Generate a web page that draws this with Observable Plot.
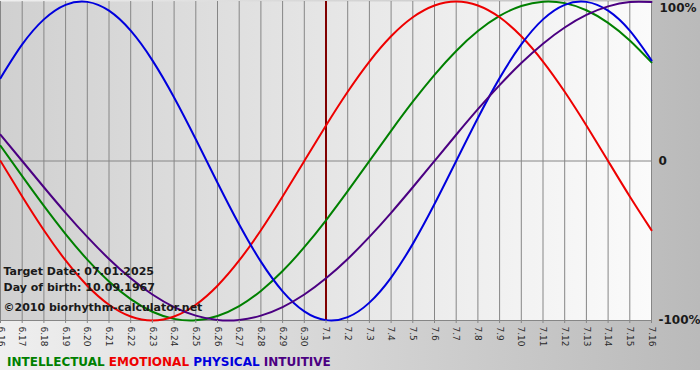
<!DOCTYPE html>
<html>
<head>
<meta charset="utf-8">
<script src="https://cdn.jsdelivr.net/npm/d3@7"></script>
<script src="https://cdn.jsdelivr.net/npm/@observablehq/plot@0.6"></script>
<style>
  body { margin: 0; background: #ffffff; }
  #wrap { width: 700px; height: 370px; position: relative;
          background: linear-gradient(to right, #efefef, #bababa); }
  #legend { position: absolute; left: 7px; top: 354px; height: 16px;
            font: bold 12px "DejaVu Sans", sans-serif; white-space: pre; line-height: 16px; }
</style>
</head>
<body>
<div id="wrap"><div id="chart"></div><div id="legend"></div></div>
<script>
// day offsets relative to the target date (7.1)
const days = [-15,-14,-13,-12,-11,-10,-9,-8,-7,-6,-5,-4,-3,-2,-1,0,1,2,3,4,5,6,7,8,9,10,11,12,13,14,15];
const dateLabels = ["6.16","6.17","6.18","6.19","6.20","6.21","6.22","6.23","6.24","6.25","6.26","6.27","6.28","6.29","6.30",
                    "7.1","7.2","7.3","7.4","7.5","7.6","7.7","7.8","7.9","7.10","7.11","7.12","7.13","7.14","7.15","7.16"];
const targetDay = 0;

const intellectual = [0.0951,-0.0951,-0.2817,-0.4582,-0.6182,-0.7557,-0.8660,-0.9450,-0.9898,-0.9989,-0.9718,-0.9096,-0.8146,-0.6901,-0.5406,
                      -0.3717,-0.1893,0,0.1893,0.3717,0.5406,0.6901,0.8146,0.9096,0.9718,0.9989,0.9898,0.9450,0.8660,0.7557,0.6182];
const emotional = [0,-0.2225,-0.4339,-0.6235,-0.7818,-0.9010,-0.9749,-1,-0.9749,-0.9010,-0.7818,-0.6235,-0.4339,-0.2225,0,
                   0.2225,0.4339,0.6235,0.7818,0.9010,0.9749,1,0.9749,0.9010,0.7818,0.6235,0.4339,0.2225,0,-0.2225,-0.4339];
const physical = [0.5196,0.7308,0.8879,0.9791,0.9977,0.9423,0.8170,0.6311,0.3984,0.1362,-0.1362,-0.3984,-0.6311,-0.8170,-0.9423,
                  -0.9977,-0.9791,-0.8879,-0.7308,-0.5196,-0.2698,0,0.2698,0.5196,0.7308,0.8879,0.9791,0.9977,0.9423,0.8170,0.6311];
const intuitive = [0.1646,0,-0.1646,-0.3247,-0.4759,-0.6142,-0.7357,-0.8372,-0.9158,-0.9694,-0.9966,-0.9966,-0.9694,-0.9158,-0.8372,
                   -0.7357,-0.6142,-0.4759,-0.3247,-0.1646,0,0.1646,0.3247,0.4759,0.6142,0.7357,0.8372,0.9158,0.9694,0.9966,0.9966];

const seriesNames = ["INTELLECTUAL","EMOTIONAL","PHYSICAL","INTUITIVE"];
const seriesColors = ["#008000","#ee0000","#0000dd","#4b0082"];
const yTicks = [1, 0, -1];
const yTickLabels = ["100%", "0", "-100%"];
const infoLines = ["Target Date: 07.01.2025", "Day of birth: 10.09.1967", "\u00a92010 biorhythm-calculator.net"];

const seriesValues = [intellectual, emotional, physical, intuitive];
const rows = seriesValues.flatMap((vals, s) => vals.map((v, i) => ({day: days[i], value: v, series: seriesNames[s]})));

const defsMark = () => {
  const defs = d3.create("svg:defs");
  const g = defs.append("linearGradient").attr("id", "plotbg").attr("x1", "0").attr("x2", "1").attr("y1", "0").attr("y2", "0");
  g.append("stop").attr("offset", "0").attr("stop-color", "#d0d0d0");
  g.append("stop").attr("offset", "1").attr("stop-color", "#fbfbfb");
  return defs.node();
};

const font = "'DejaVu Sans', sans-serif";
const labelOf = d => dateLabels[days.indexOf(d)];

const chart = Plot.plot({
  width: 700,
  height: 350,
  marginLeft: 0,
  marginRight: 49,
  marginTop: 1,
  marginBottom: 30,
  style: {background: "transparent", fontFamily: font},
  x: {domain: [days[0], days[days.length - 1]]},
  y: {domain: [-1, 1]},
  marks: [
    defsMark,
    Plot.frame({fill: "url(#plotbg)", stroke: null}),
    Plot.ruleX(days, {stroke: "#868686", strokeWidth: 1}),
    Plot.ruleY([0, -1], {stroke: "#868686", strokeWidth: 1}),
    Plot.ruleX([targetDay], {stroke: "#800000", strokeWidth: 2}),
    ...seriesNames.map((name, s) =>
      Plot.line(rows.filter(r => r.series === name), {x: "day", y: "value", stroke: seriesColors[s], strokeWidth: 2, curve: "natural"})),
    Plot.text([infoLines[0]], {frameAnchor: "bottom-left", text: d => d, dx: 3, dy: -46, fontSize: 11, fontWeight: "bold", fill: "#1a1a1a", textAnchor: "start"}),
    Plot.text([infoLines[1]], {frameAnchor: "bottom-left", text: d => d, dx: 3, dy: -30, fontSize: 11, fontWeight: "bold", fill: "#1a1a1a", textAnchor: "start"}),
    Plot.text([infoLines[2]], {frameAnchor: "bottom-left", text: d => d, dx: 3, dy: -10, fontSize: 11, fontWeight: "bold", fill: "#1a1a1a", textAnchor: "start"}),
    Plot.axisX({ticks: days, tickFormat: labelOf, tickRotate: 90, tickSize: 3, tickPadding: 3, fontSize: 9, stroke: "#868686", color: "#2a2a2a", label: null}),
    Plot.text([yTicks[0]], {x: days[days.length - 1], y: d => d, text: () => yTickLabels[0], dx: 8, dy: 7, textAnchor: "start", fontSize: 12, fontWeight: "bold", fill: "#1a1a1a"}),
    Plot.text(yTicks.slice(1), {x: days[days.length - 1], y: d => d, text: d => yTickLabels[yTicks.indexOf(d)], dx: 7, textAnchor: "start", fontSize: 12, fontWeight: "bold", fill: "#1a1a1a"})
  ]
});
document.getElementById("chart").appendChild(chart);

const legend = document.getElementById("legend");
seriesNames.forEach((name, s) => {
  const span = document.createElement("span");
  span.textContent = name + (s < seriesNames.length - 1 ? " " : "");
  span.style.color = seriesColors[s];
  legend.appendChild(span);
});
</script>
</body>
</html>
